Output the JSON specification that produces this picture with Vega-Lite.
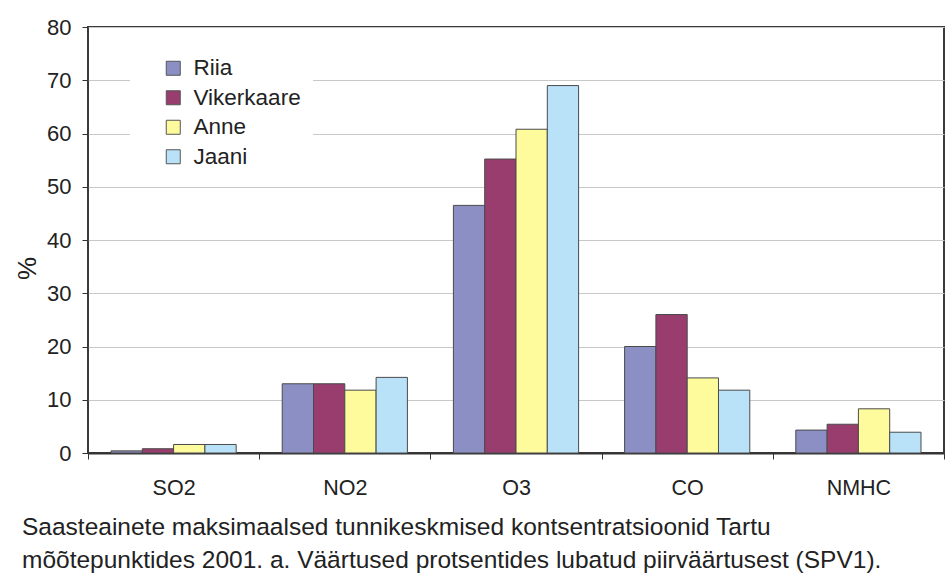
{
  "$schema": "https://vega.github.io/schema/vega-lite/v6.json",
  "autosize": {"type": "none"},
  "width": 856,
  "height": 426,
  "padding": {"left": 88, "top": 27, "right": 4, "bottom": 123},
  "background": "white",
  "config": {
    "font": "Liberation Sans",
    "view": {"stroke": "#3a3a3a", "strokeWidth": 2},
    "axis": {"labelColor": "#222", "titleColor": "#222", "labelFont": "Liberation Sans", "titleFont": "Liberation Sans"}
  },
  "title": {
    "text": ["Saasteainete maksimaalsed tunnikeskmised kontsentratsioonid Tartu", "mõõtepunktides 2001. a. Väärtused protsentides lubatud piirväärtusest (SPV1)."],
    "orient": "bottom",
    "anchor": "start",
    "frame": "group",
    "dx": -66,
    "offset": 17,
    "fontSize": 24.5,
    "fontWeight": "normal",
    "lineHeight": 33,
    "color": "#222",
    "font": "Liberation Sans"
  },
  "data": {
    "values": [
      {"saasteaine": "SO2", "punkt": "Riia", "vaartus": 0.4},
      {"saasteaine": "SO2", "punkt": "Vikerkaare", "vaartus": 0.8},
      {"saasteaine": "SO2", "punkt": "Anne", "vaartus": 1.6},
      {"saasteaine": "SO2", "punkt": "Jaani", "vaartus": 1.6},
      {"saasteaine": "NO2", "punkt": "Riia", "vaartus": 13.0},
      {"saasteaine": "NO2", "punkt": "Vikerkaare", "vaartus": 13.0},
      {"saasteaine": "NO2", "punkt": "Anne", "vaartus": 11.8},
      {"saasteaine": "NO2", "punkt": "Jaani", "vaartus": 14.2},
      {"saasteaine": "O3", "punkt": "Riia", "vaartus": 46.5},
      {"saasteaine": "O3", "punkt": "Vikerkaare", "vaartus": 55.2},
      {"saasteaine": "O3", "punkt": "Anne", "vaartus": 60.8},
      {"saasteaine": "O3", "punkt": "Jaani", "vaartus": 69.0},
      {"saasteaine": "CO", "punkt": "Riia", "vaartus": 20.0},
      {"saasteaine": "CO", "punkt": "Vikerkaare", "vaartus": 26.0},
      {"saasteaine": "CO", "punkt": "Anne", "vaartus": 14.1},
      {"saasteaine": "CO", "punkt": "Jaani", "vaartus": 11.8},
      {"saasteaine": "NMHC", "punkt": "Riia", "vaartus": 4.3},
      {"saasteaine": "NMHC", "punkt": "Vikerkaare", "vaartus": 5.4},
      {"saasteaine": "NMHC", "punkt": "Anne", "vaartus": 8.3},
      {"saasteaine": "NMHC", "punkt": "Jaani", "vaartus": 3.9}
    ]
  },
  "mark": {"type": "bar", "stroke": "#4a4a4a", "strokeWidth": 1},
  "encoding": {
    "x": {
      "field": "saasteaine",
      "type": "nominal",
      "sort": ["SO2", "NO2", "O3", "CO", "NMHC"],
      "scale": {"paddingInner": 0, "paddingOuter": 0},
      "axis": {
        "title": null,
        "labelAngle": 0,
        "labelFontSize": 21.5,
        "labelPadding": 18,
        "tickBand": "extent",
        "tickSize": 6,
        "tickColor": "#333",
        "domainColor": "#333",
        "domainWidth": 2
      }
    },
    "xOffset": {
      "field": "punkt",
      "type": "nominal",
      "sort": ["Riia", "Vikerkaare", "Anne", "Jaani"],
      "scale": {"paddingInner": 0, "paddingOuter": 0.735}
    },
    "y": {
      "field": "vaartus",
      "type": "quantitative",
      "scale": {"domain": [0, 80], "nice": false},
      "axis": {
        "title": "%",
        "titleFontSize": 26,
        "titleFontWeight": "normal",
        "titleX": -48,
        "titleY": 241,
        "titleAngle": 270,
        "values": [0, 10, 20, 30, 40, 50, 60, 70, 80],
        "labelOverlap": false,
        "labelFontSize": 22,
        "labelPadding": 11,
        "ticks": true,
        "tickSize": 6,
        "tickColor": "#333",
        "domain": false,
        "gridColor": "#c8c8c8",
        "gridWidth": 1
      }
    },
    "color": {
      "field": "punkt",
      "type": "nominal",
      "sort": ["Riia", "Vikerkaare", "Anne", "Jaani"],
      "scale": {"domain": ["Riia", "Vikerkaare", "Anne", "Jaani"], "range": ["#8b8fc4", "#993d6f", "#fdfb9b", "#b9e2f8"]},
      "legend": {
        "title": null,
        "orient": "none",
        "legendX": 42,
        "legendY": 18,
        "fillColor": "white",
        "padding": 12,
        "symbolOffset": 20,
        "symbolType": "square",
        "symbolSize": 196,
        "symbolStrokeColor": "#555",
        "symbolStrokeWidth": 1,
        "labelFontSize": 22.5,
        "labelColor": "#222",
        "labelOffset": 9,
        "rowPadding": 6.5
      }
    }
  }
}
